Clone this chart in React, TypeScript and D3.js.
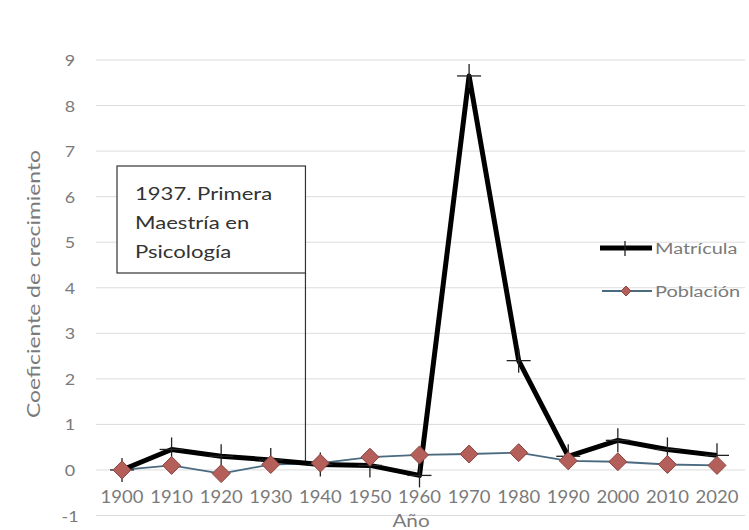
import React from "react";
import * as d3 from "d3";

const years = [1900, 1910, 1920, 1930, 1940, 1950, 1960, 1970, 1980, 1990, 2000, 2010, 2020];
const matricula = [0, 0.45, 0.3, 0.22, 0.12, 0.1, -0.12, 8.65, 2.4, 0.3, 0.65, 0.45, 0.32];
const poblacion = [0, 0.1, -0.08, 0.12, 0.15, 0.28, 0.33, 0.35, 0.38, 0.2, 0.18, 0.12, 0.1];
const yTicks = [-1, 0, 1, 2, 3, 4, 5, 6, 7, 8, 9];
const annotationYear = 1937;
const annotationLines = ["1937. Primera", "Maestría en", "Psicología"];

const W = 749;
const H = 530;
const FONT = "Lato, 'Open Sans', sans-serif";
const GREY = "#7a7a7a";

function T({
  x,
  y,
  children,
  size,
  sx = 1,
  anchor = "start",
  fill = GREY,
  rotate = 0,
}: {
  x: number;
  y: number;
  children: React.ReactNode;
  size: number;
  sx?: number;
  anchor?: string;
  fill?: string;
  rotate?: number;
}) {
  return (
    <text
      transform={`translate(${x},${y}) rotate(${rotate}) scale(${sx},1)`}
      textAnchor={anchor}
      fontFamily={FONT}
      fontSize={size}
      fill={fill}
    >
      {children}
    </text>
  );
}

export default function App() {
  const x = d3.scaleLinear().domain([1900, 2020]).range([122, 717]);
  const y = d3.scaleLinear().domain([-1, 9]).range([515.5, 60]);
  const line = d3
    .line<number>()
    .x((_, i) => x(years[i]))
    .y((d) => y(d));

  const diamond = (cx: number, cy: number, r: number) =>
    `M${cx},${cy - r}L${cx + r},${cy}L${cx},${cy + r}L${cx - r},${cy}Z`;

  return (
    <svg width={W} height={H} style={{ position: "absolute", left: 0, top: 0, background: "#fff" }}>
      <rect x={0} y={0} width={W} height={H} fill="#fff" />
      {yTicks.map((t) => (
        <g key={t}>
          <line x1={96} x2={745} y1={y(t)} y2={y(t)} stroke="#dcdcdc" strokeWidth={1} />
          <T x={70} y={y(t) + 6} size={16} sx={1.12} anchor="middle">
            {t}
          </T>
        </g>
      ))}
      {years.map((yr) => (
        <T key={yr} x={x(yr)} y={503} size={16.5} sx={1.12} anchor="middle">
          {yr}
        </T>
      ))}
      <T x={411} y={527} size={18} sx={1.15} anchor="middle">
        Año
      </T>
      <T x={40} y={284} size={18} sx={1.27} anchor="middle" rotate={-90}>
        Coeficiente de crecimiento
      </T>

      {/* annotation */}
      <line x1={x(annotationYear)} x2={x(annotationYear)} y1={273} y2={y(0.13)} stroke="#333" strokeWidth={1.2} />
      <rect x={117} y={166} width={x(annotationYear) - 117} height={107} fill="#fff" stroke="#333" strokeWidth={1.2} />
      {annotationLines.map((l, i) => (
        <T key={i} x={135} y={200 + i * 29} size={17} sx={1.3} fill="#333">
          {l}
        </T>
      ))}

      {/* Población */}
      <path d={line(poblacion) || ""} fill="none" stroke="#4a6a80" strokeWidth={1.8} />
      {/* Matrícula */}
      <path d={line(matricula) || ""} fill="none" stroke="#000" strokeWidth={5} strokeLinejoin="round" />
      {matricula.map((v, i) => (
        <g key={i} stroke="#222" strokeWidth={1.3}>
          <line x1={x(years[i]) - 12} x2={x(years[i]) + 12} y1={y(v)} y2={y(v)} />
          <line x1={x(years[i])} x2={x(years[i])} y1={y(v) - 12} y2={y(v) + 12} />
        </g>
      ))}
      {poblacion.map((v, i) => (
        <path key={i} d={diamond(x(years[i]), y(v), 9)} fill="#b45f5a" stroke="#8a4440" strokeWidth={1} />
      ))}

      {/* legend */}
      <line x1={600} x2={652} y1={248} y2={248} stroke="#000" strokeWidth={5} />
      <line x1={625} x2={625} y1={241} y2={256} stroke="#222" strokeWidth={1.3} />
      <T x={655} y={254} size={15} sx={1.33}>Matrícula</T>
      <line x1={602} x2={652} y1={291} y2={291} stroke="#4a6a80" strokeWidth={1.8} />
      <path d={diamond(626, 291, 5)} fill="#b45f5a" stroke="#8a4440" strokeWidth={1} />
      <T x={655} y={297} size={15} sx={1.33}>Población</T>
    </svg>
  );
}
